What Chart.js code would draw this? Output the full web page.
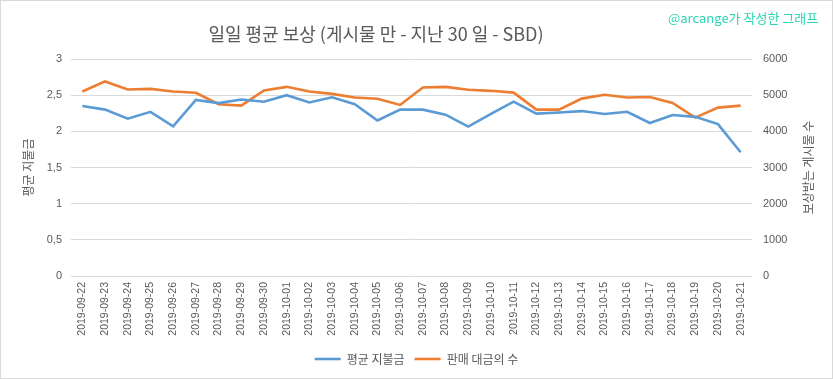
<!DOCTYPE html>
<html>
<head>
<meta charset="utf-8">
<script src="https://cdn.jsdelivr.net/npm/chart.js@4.4.0/dist/chart.umd.min.js"></script>
<style>
html,body{margin:0;padding:0;background:#fff;}
#wrap{position:relative;width:833px;height:379px;}
canvas{display:block;}
</style>
</head>
<body>
<div id="wrap"><canvas id="c" width="833" height="379"></canvas></div>
<script>
const categories = ["2019-09-22","2019-09-23","2019-09-24","2019-09-25","2019-09-26","2019-09-27","2019-09-28","2019-09-29","2019-09-30","2019-10-01","2019-10-02","2019-10-03","2019-10-04","2019-10-05","2019-10-06","2019-10-07","2019-10-08","2019-10-09","2019-10-10","2019-10-11","2019-10-12","2019-10-13","2019-10-14","2019-10-15","2019-10-16","2019-10-17","2019-10-18","2019-10-19","2019-10-20","2019-10-21"];
const avgPayout = [2.35,2.30,2.175,2.27,2.07,2.435,2.39,2.44,2.41,2.50,2.40,2.47,2.375,2.15,2.30,2.30,2.23,2.065,2.24,2.41,2.245,2.26,2.28,2.24,2.27,2.115,2.225,2.20,2.10,1.71];
const paidPosts = [5100,5380,5155,5175,5100,5065,4750,4710,5130,5230,5100,5035,4935,4900,4730,5210,5230,5150,5120,5070,4600,4600,4905,5010,4935,4950,4785,4380,4655,4710];
const leftTicks = [0,0.5,1,1.5,2,2.5,3];
const rightTicks = [0,1000,2000,3000,4000,5000,6000];
const titleText = "일일 평균 보상 (게시물 만 - 지난 30 일 - SBD)";
const watermarkText = "@arcange가 작성한 그래프";
const leftTitle = "평균 지불금";
const rightTitle = "보상받는 게시물 수";
const seriesNames = ["평균 지불금","판매 대금의 수"];

const KR = '"Noto Sans CJK KR", "Noto Sans", sans-serif';
const NUM = '"Liberation Sans", Arial, sans-serif';

const deco = {
  id: 'deco',
  afterDraw(chart) {
    const ctx = chart.ctx;
    const ca = chart.chartArea;
    ctx.save();
    ctx.strokeStyle = '#d9d9d9';
    ctx.lineWidth = 1;
    ctx.strokeRect(0.5, 0.5, 832, 378);
    ctx.fillStyle = '#595959';
    ctx.font = '18px ' + KR;
    ctx.textAlign = 'center';
    ctx.textBaseline = 'middle';
    ctx.fillText(titleText, 376, 34);
    ctx.fillStyle = '#2bd6b4';
    ctx.font = '13px ' + KR;
    ctx.textAlign = 'left';
    ctx.fillText(watermarkText, 668, 18);
    ctx.fillStyle = '#595959';
    ctx.font = '12px ' + KR;
    ctx.textAlign = 'center';
    const cy = (ca.top + ca.bottom) / 2;
    ctx.save();
    ctx.translate(28, cy);
    ctx.rotate(-Math.PI / 2);
    ctx.fillText(leftTitle, 0, 0);
    ctx.restore();
    ctx.save();
    ctx.translate(808, cy);
    ctx.rotate(-Math.PI / 2);
    ctx.fillText(rightTitle, 0, 0);
    ctx.restore();
    ctx.restore();
  }
};

new Chart(document.getElementById('c'), {
  type: 'line',
  data: {
    labels: categories,
    datasets: [
      {label: seriesNames[0], data: avgPayout, yAxisID: 'y', borderColor: '#5b9bd5', backgroundColor: '#5b9bd5', borderWidth: 2.6, pointRadius: 0, pointStyle: 'line', tension: 0, fill: false},
      {label: seriesNames[1], data: paidPosts, yAxisID: 'y1', borderColor: '#ed7d31', backgroundColor: '#ed7d31', borderWidth: 2.6, pointRadius: 0, pointStyle: 'line', tension: 0, fill: false}
    ]
  },
  options: {
    responsive: false,
    animation: false,
    events: [],
    layout: {padding: {top: 59, left: 0, right: 0, bottom: 4}},
    plugins: {
      title: {display: false},
      tooltip: {enabled: false},
      legend: {
        position: 'bottom',
        labels: {
          usePointStyle: true,
          pointStyleWidth: 26,
          boxHeight: 12,
          padding: 10,
          color: '#595959',
          font: {family: KR, size: 12}
        }
      }
    },
    scales: {
      x: {
        offset: true,
        grid: {display: false, drawTicks: false},
        border: {display: false},
        ticks: {color: '#595959', font: {family: NUM, size: 10.5}, maxRotation: 90, minRotation: 90, autoSkip: false, padding: 6},
        afterFit(s) { s.height = 67; }
      },
      y: {
        position: 'left',
        min: 0, max: 3,
        afterBuildTicks(s) { s.ticks = leftTicks.map(v => ({value: v})); },
        grid: {color: '#d9d9d9', drawTicks: false},
        border: {display: false},
        ticks: {color: '#595959', font: {family: NUM, size: 11}, padding: 9, callback: v => String(v).replace('.', ',')},
        afterFit(s) { s.width = 71; }
      },
      y1: {
        position: 'right',
        min: 0, max: 6000,
        afterBuildTicks(s) { s.ticks = rightTicks.map(v => ({value: v})); },
        grid: {display: false, drawTicks: false},
        border: {display: false},
        ticks: {color: '#595959', font: {family: NUM, size: 11}, padding: 11, callback: v => String(v)},
        afterFit(s) { s.width = 81; }
      }
    }
  },
  plugins: [deco]
});
</script>
</body>
</html>
